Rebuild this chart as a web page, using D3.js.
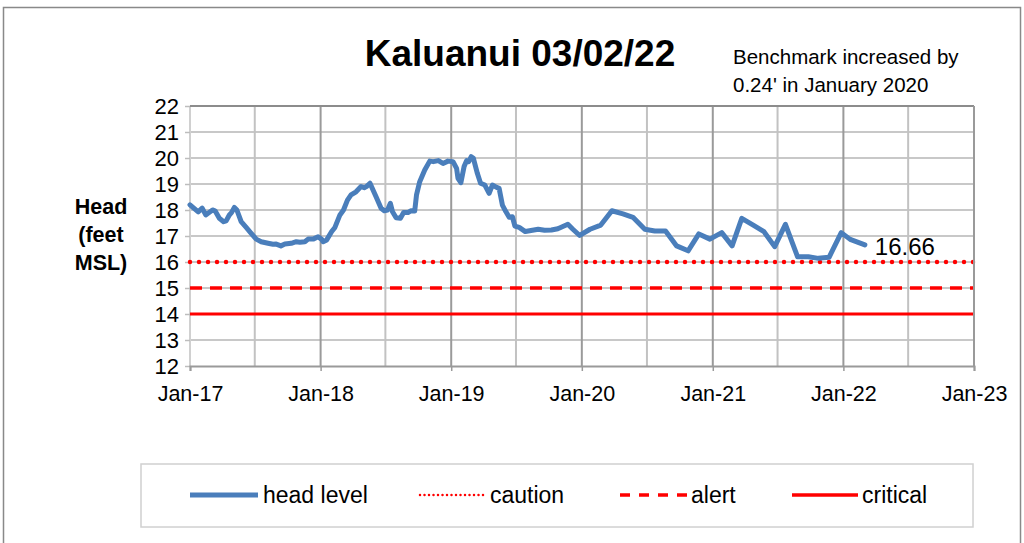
<!DOCTYPE html>
<html>
<head>
<meta charset="utf-8">
<script src="https://cdn.jsdelivr.net/npm/d3@7"></script>
<style>
  html, body { margin: 0; padding: 0; background: #fff; }
  svg { display: block; font-family: "Liberation Sans", Arial, sans-serif; }
</style>
</head>
<body>
<svg id="chart" width="1024" height="543"></svg>
<script>
// ---- data ----
const dates = [
  "2017-01-01","2017-01-24","2017-02-04","2017-02-14","2017-03-05","2017-03-12","2017-03-24","2017-04-05",
  "2017-04-12","2017-04-21","2017-04-27","2017-05-05","2017-05-12","2017-05-24","2017-06-07","2017-06-21",
  "2017-07-05","2017-07-19","2017-08-07","2017-08-21","2017-08-30","2017-09-12","2017-09-23","2017-10-11",
  "2017-10-25","2017-11-04","2017-11-18","2017-11-27","2017-12-11","2017-12-25","2018-01-04","2018-01-08",
  "2018-01-18","2018-02-01","2018-02-10","2018-02-24","2018-03-06","2018-03-17","2018-03-27","2018-04-10",
  "2018-04-24","2018-05-03","2018-05-09","2018-05-19","2018-06-05","2018-06-19","2018-06-28","2018-07-07",
  "2018-07-15","2018-07-21","2018-07-31","2018-08-12","2018-08-21","2018-09-02","2018-09-10","2018-09-21",
  "2018-09-26","2018-10-05","2018-10-19","2018-11-02","2018-11-12","2018-11-26","2018-12-09","2018-12-23",
  "2019-01-06","2019-01-16","2019-01-20","2019-01-28","2019-02-06","2019-02-13","2019-02-19","2019-02-26",
  "2019-03-04","2019-03-15","2019-03-24","2019-04-05","2019-04-17","2019-04-26","2019-05-08","2019-05-15",
  "2019-05-24","2019-06-03","2019-06-12","2019-06-21","2019-06-28","2019-07-10","2019-07-27","2019-08-12",
  "2019-09-01","2019-09-19","2019-10-08","2019-10-26","2019-11-23","2019-12-07","2019-12-26","2020-01-24",
  "2020-02-23","2020-03-25","2020-04-25","2020-05-23","2020-06-25","2020-07-23","2020-08-22","2020-09-22",
  "2020-10-24","2020-11-23","2020-12-24","2021-01-26","2021-02-24","2021-03-23","2021-04-24","2021-05-24",
  "2021-06-23","2021-07-23","2021-08-26","2021-09-25","2021-10-23","2021-11-22","2021-12-26","2022-01-20",
  "2022-03-02"
];
const headLevel = [
  18.2, 17.93, 18.07, 17.81, 18.0, 17.97, 17.68, 17.55,
  17.58, 17.81, 17.9, 18.1, 18.0, 17.55, 17.33, 17.1,
  16.88, 16.78, 16.72, 16.68, 16.69, 16.62, 16.69, 16.72,
  16.78, 16.76, 16.78, 16.88, 16.88, 16.97, 16.87, 16.78,
  16.85, 17.17, 17.33, 17.81, 18.0, 18.38, 18.58, 18.7,
  18.9, 18.86, 18.9, 19.03, 18.51, 18.07, 17.97, 18.0,
  18.26, 17.93, 17.7, 17.68, 17.9, 17.9, 17.97, 17.96,
  18.58, 19.09, 19.54, 19.88, 19.86, 19.9, 19.79, 19.88,
  19.86, 19.6, 19.22, 19.05, 19.67, 19.9, 19.86, 20.05,
  19.99, 19.41, 19.03, 18.96, 18.64, 18.96, 18.87, 18.83,
  18.19, 17.93, 17.72, 17.74, 17.38, 17.33, 17.17, 17.21,
  17.26, 17.22, 17.23, 17.28, 17.45, 17.26, 17.02, 17.26,
  17.42, 17.97, 17.85, 17.72, 17.26, 17.19, 17.19, 16.62,
  16.43, 17.08, 16.88, 17.13, 16.62, 17.68, 17.42, 17.17,
  16.59, 17.45, 16.2, 16.2, 16.14, 16.18, 17.13, 16.87,
  16.66
];
const cautionLevel = 16;
const alertLevel = 15;
const criticalLevel = 14;
const yTicks = [12, 13, 14, 15, 16, 17, 18, 19, 20, 21, 22];
const xTickLabels = ["Jan-17", "Jan-18", "Jan-19", "Jan-20", "Jan-21", "Jan-22", "Jan-23"];
const legendLabels = ["head level", "caution", "alert", "critical"];
const titleText = "Kaluanui 03/02/22";
const noteLines = ["Benchmark increased by", "0.24' in January 2020"];
const yLabelLines = ["Head", "(feet", "MSL)"];
const lastLabel = "16.66";

// ---- setup ----
const parse = d3.timeParse("%Y-%m-%d");
const series = dates.map((d, i) => ({ date: parse(d), value: headLevel[i] }));
const svg = d3.select("#chart");
const L = 190, R = 974, T = 106, B = 366;

const x = d3.scaleTime()
  .domain([new Date(2017, 0, 1), new Date(2023, 0, 1)])
  .range([L, R]);
const y = d3.scaleLinear().domain([12, 22]).range([B, T]);

const blue = "#4a7ebb", red = "#ff0000";

// outer chart border
svg.append("rect").attr("x", 3.5).attr("y", 7.5).attr("width", 1017).attr("height", 560)
  .attr("fill", "none").attr("stroke", "#898989").attr("stroke-width", 1.5);

// horizontal gridlines
svg.append("g").selectAll("line").data(yTicks.filter(t => t > 12)).join("line")
  .attr("x1", L).attr("x2", R)
  .attr("y1", d => y(d)).attr("y2", d => y(d))
  .attr("stroke", d => d === 22 ? "#8c8c8c" : "#c8c8c8").attr("stroke-width", 2);

// vertical gridlines: half years lighter, years darker
const halfYears = d3.timeMonth.every(6).range(new Date(2017, 6, 1), new Date(2023, 0, 1))
  .filter(d => d.getMonth() === 6);
const years = d3.timeYear.range(new Date(2018, 0, 1), new Date(2023, 0, 2));
svg.append("g").selectAll("line").data(halfYears).join("line")
  .attr("x1", d => x(d)).attr("x2", d => x(d)).attr("y1", T).attr("y2", B)
  .attr("stroke", "#c2c2c2").attr("stroke-width", 2);
svg.append("g").selectAll("line").data(years).join("line")
  .attr("x1", d => x(d)).attr("x2", d => x(d)).attr("y1", T).attr("y2", B)
  .attr("stroke", "#9a9a9a").attr("stroke-width", 2);

// left axis line (light)
svg.append("line").attr("x1", L).attr("x2", L).attr("y1", T).attr("y2", B)
  .attr("stroke", "#d0d0d0").attr("stroke-width", 2);

// y axis
const yAxis = svg.append("g").attr("transform", `translate(${L},0)`)
  .call(d3.axisLeft(y).tickValues(yTicks).tickSize(5).tickFormat(d3.format("d")));
yAxis.select(".domain").remove();
yAxis.selectAll(".tick line").attr("stroke", "#bdbdbd").attr("stroke-width", 1.5);
yAxis.selectAll(".tick text").attr("font-size", 22).attr("fill", "#000")
  .attr("font-family", "Liberation Sans, Arial, sans-serif").attr("x", -11).attr("dy", "0.36em");

// x axis
const xTickDates = d3.timeYear.range(new Date(2017, 0, 1), new Date(2023, 0, 2));
const xAxis = svg.append("g").attr("transform", `translate(0,${B})`)
  .call(d3.axisBottom(x).tickValues(xTickDates).tickSize(5)
    .tickFormat((d, i) => xTickLabels[i]));
xAxis.select(".domain").attr("stroke", "#9a9a9a").attr("stroke-width", 2);
xAxis.selectAll(".tick line").attr("stroke", "#9a9a9a").attr("stroke-width", 1.5);
xAxis.selectAll(".tick text").attr("font-size", 21.5).attr("fill", "#000")
  .attr("font-family", "Liberation Sans, Arial, sans-serif").attr("y", 20);

// threshold lines
const thresholds = [
  { v: criticalLevel, dash: null, w: 3, cap: "butt" },
  { v: alertLevel, dash: "12,8", w: 3.5, cap: "butt" },
  { v: cautionLevel, dash: "0,9", w: 4.5, cap: "round" }
];
svg.append("g").selectAll("line").data(thresholds).join("line")
  .attr("x1", L).attr("x2", R)
  .attr("y1", d => y(d.v)).attr("y2", d => y(d.v))
  .attr("stroke", red).attr("stroke-width", d => d.w)
  .attr("stroke-dasharray", d => d.dash).attr("stroke-linecap", d => d.cap);

// head level line
const line = d3.line().x(d => x(d.date)).y(d => y(d.value));
svg.append("path").datum(series).attr("d", line)
  .attr("fill", "none").attr("stroke", blue).attr("stroke-width", 5)
  .attr("stroke-linejoin", "round").attr("stroke-linecap", "round");

// last value label
const last = series[series.length - 1];
svg.append("text").attr("x", x(last.date) + 10).attr("y", y(last.value) + 10)
  .attr("font-size", 24).attr("fill", "#000").text(lastLabel);

// top border of plot and right border
svg.append("line").attr("x1", L).attr("x2", R).attr("y1", T).attr("y2", T)
  .attr("stroke", "#8c8c8c").attr("stroke-width", 2);
svg.append("line").attr("x1", R).attr("x2", R).attr("y1", T).attr("y2", B)
  .attr("stroke", "#9a9a9a").attr("stroke-width", 2);

// title
svg.append("text").attr("x", 520).attr("y", 66).attr("text-anchor", "middle")
  .attr("font-size", 37).attr("font-weight", "bold").attr("fill", "#000").text(titleText);

// note
svg.append("g").selectAll("text").data(noteLines).join("text")
  .attr("x", 733).attr("y", (d, i) => 64 + i * 28)
  .attr("font-size", 20.5).attr("fill", "#000").text(d => d);

// y label
svg.append("g").selectAll("text").data(yLabelLines).join("text")
  .attr("x", 101).attr("y", (d, i) => 214 + i * 28).attr("text-anchor", "middle")
  .attr("font-size", 21.5).attr("font-weight", "bold").attr("fill", "#000").text(d => d);

// legend
svg.append("rect").attr("x", 141).attr("y", 464).attr("width", 832).attr("height", 63)
  .attr("fill", "#fff").attr("stroke", "#d0d0d0").attr("stroke-width", 1.5);
const legendItems = [
  { label: legendLabels[0], x1: 190, x2: 258, color: blue, w: 5, dash: null, cap: "butt", tx: 263 },
  { label: legendLabels[1], x1: 420, x2: 486, color: red, w: 2.5, dash: "0,4.5", cap: "round", tx: 490 },
  { label: legendLabels[2], x1: 620, x2: 687, color: red, w: 3.5, dash: "10,9", cap: "butt", tx: 691 },
  { label: legendLabels[3], x1: 792, x2: 858, color: red, w: 3.5, dash: null, cap: "butt", tx: 862 }
];
const lg = svg.append("g").selectAll("g").data(legendItems).join("g");
lg.append("line").attr("x1", d => d.x1).attr("x2", d => d.x2).attr("y1", 495).attr("y2", 495)
  .attr("stroke", d => d.color).attr("stroke-width", d => d.w)
  .attr("stroke-dasharray", d => d.dash).attr("stroke-linecap", d => d.cap);
lg.append("text").attr("x", d => d.tx).attr("y", 503).attr("font-size", 23).attr("fill", "#000")
  .text(d => d.label);
</script>
</body>
</html>
